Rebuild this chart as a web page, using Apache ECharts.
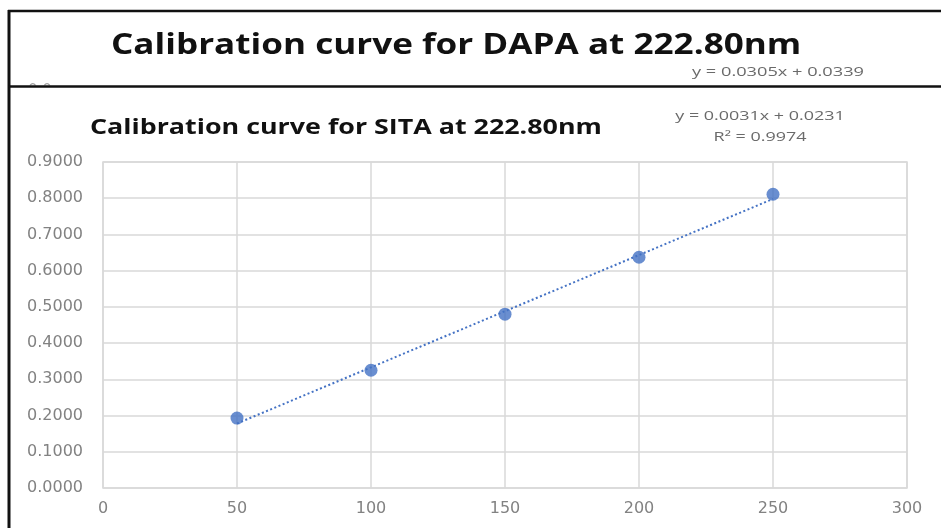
<!DOCTYPE html>
<html>
<head>
<meta charset="utf-8">
<script src="https://cdn.jsdelivr.net/npm/echarts@6/dist/echarts.min.js"></script>
<style>
  html, body { margin: 0; padding: 0; background: #ffffff; }
  #chart { width: 941px; height: 528px; }
</style>
</head>
<body>
<div id="chart"></div>
<script>
// Calibration data for SITA at 222.80 nm
const concentrations = [50, 100, 150, 200, 250];
const absorbances = [0.1930, 0.3250, 0.4800, 0.6370, 0.8110];

// Linear trendline as reported: y = 0.0031x + 0.0231
const trendSlope = 0.0031;
const trendIntercept = 0.0231;
const trendEquation = 'y = 0.0031x + 0.0231';
const trendR2 = 'R² = 0.9974';

// Header of the DAPA chart sitting above
const dapaTitle = 'Calibration curve for DAPA at 222.80nm';
const dapaEquation = 'y = 0.0305x + 0.0339';
const dapaHiddenLabel = '0.0';
const sitaTitle = 'Calibration curve for SITA at 222.80nm';

// Axis ranges
const xAxisMin = 0, xAxisMax = 300, xAxisStep = 50;
const yAxisMin = 0, yAxisMax = 0.9, yAxisStep = 0.1;

const points = concentrations.map((c, i) => [c, absorbances[i]]);
const xFirst = concentrations[0];
const xLast = concentrations[concentrations.length - 1];
const trendLine = [
  [xFirst, trendSlope * xFirst + trendIntercept],
  [xLast, trendSlope * xLast + trendIntercept]
];

const chart = echarts.init(document.getElementById('chart'), null, { renderer: 'canvas' });

const FONT = '"Open Sans", "Noto Sans", sans-serif';
const TICK_FONT = '"DejaVu Sans", sans-serif';
const GRID_GREY = '#d9d9d9';
const LABEL_GREY = '#828282';
const TEXT_GREY = '#6a6a6a';
const BLUE = '#4472c4';

// Text helper: the header texts are set a little wider than the font's natural width
function headerText(text, x, y, font, fill, stretch, align) {
  return {
    type: 'text', x: x, y: y, scaleX: stretch, scaleY: 1, z: 10,
    style: { text: text, font: font, fill: fill, align: align || 'left', verticalAlign: 'top', lineHeight: 21 }
  };
}

chart.setOption({
  backgroundColor: '#ffffff',
  animation: false,
  grid: { left: 103, right: 34, top: 162, bottom: 40, show: true, borderColor: GRID_GREY, borderWidth: 1.5 },
  xAxis: {
    type: 'value',
    min: xAxisMin, max: xAxisMax, interval: xAxisStep,
    axisLine: { show: false },
    axisTick: { show: false },
    splitLine: { show: true, lineStyle: { color: GRID_GREY, width: 1.5 } },
    axisLabel: { color: LABEL_GREY, fontFamily: TICK_FONT, fontSize: 16, margin: 13 }
  },
  yAxis: {
    type: 'value',
    min: yAxisMin, max: yAxisMax, interval: yAxisStep,
    axisLine: { show: false },
    axisTick: { show: false },
    splitLine: { show: true, lineStyle: { color: GRID_GREY, width: 1.5 } },
    axisLabel: {
      color: LABEL_GREY, fontFamily: TICK_FONT, fontSize: 16, margin: 20,
      formatter: v => v.toFixed(4)
    }
  },
  series: [
    {
      type: 'line',
      data: trendLine,
      symbol: 'none',
      lineStyle: { color: BLUE, width: 2, type: [2, 2.5] },
      silent: true,
      z: 2
    },
    {
      type: 'scatter',
      data: points,
      symbol: 'circle',
      symbolSize: 13,
      itemStyle: { color: BLUE },
      z: 3
    }
  ],
  graphic: [
    // Top of a tick label of the DAPA chart, mostly covered by the SITA chart
    {
      type: 'text', x: 28, y: 84, z: 8,
      style: { text: dapaHiddenLabel, font: '15px ' + TICK_FONT, fill: '#a0a0a0', verticalAlign: 'top' }
    },
    { type: 'rect', shape: { x: 15, y: 85.5, width: 80, height: 20 }, style: { fill: '#ffffff' }, z: 9 },
    // DAPA chart header frame
    { type: 'line', shape: { x1: 8, y1: 11, x2: 941, y2: 11 }, style: { stroke: '#111', lineWidth: 2.5 }, z: 10 },
    { type: 'line', shape: { x1: 9, y1: 10, x2: 9, y2: 528 }, style: { stroke: '#111', lineWidth: 3 }, z: 10 },
    { type: 'line', shape: { x1: 8, y1: 86.5, x2: 941, y2: 86.5 }, style: { stroke: '#111', lineWidth: 2.5 }, z: 10 },
    headerText(dapaTitle, 111, 35, 'bold 29px ' + FONT, '#111', 1.21),
    headerText(dapaEquation, 692, 62, '13px ' + FONT, TEXT_GREY, 1.4),
    // SITA chart header
    headerText(sitaTitle, 90, 117, 'bold 22px ' + FONT, '#111', 1.22),
    headerText(trendEquation + '\n' + trendR2, 760, 106, '13px ' + FONT, TEXT_GREY, 1.38, 'center')
  ]
});
</script>
</body>
</html>
